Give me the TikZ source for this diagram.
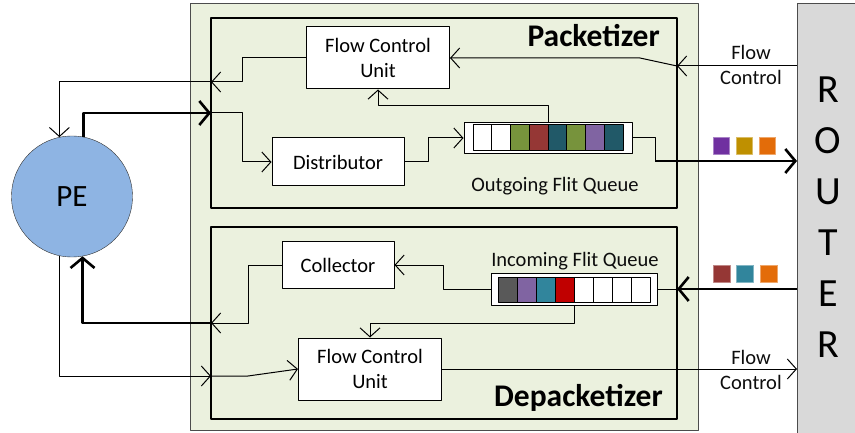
\documentclass[tikz,border=0pt]{standalone}
\usepackage{fontspec}
\setmainfont{Carlito}
\usetikzlibrary{arrows.meta}
\definecolor{bgGreen}{HTML}{EBF1DE}
\definecolor{peBlue}{HTML}{8EB4E3}
\definecolor{rtGray}{HTML}{D9D9D9}
\definecolor{qGreen}{HTML}{77933C}
\definecolor{qRed}{HTML}{953735}
\definecolor{qTeal}{HTML}{215968}
\definecolor{qPurple}{HTML}{8064A2}
\definecolor{qDark}{HTML}{595959}
\definecolor{qCyan}{HTML}{31859C}
\definecolor{qCrimson}{HTML}{C00000}
\definecolor{sqPurple}{HTML}{7030A0}
\definecolor{sqGold}{HTML}{BF9000}
\definecolor{sqOrange}{HTML}{E36C09}
\tikzset{
  blk/.style={draw, fill=white, line width=1pt, align=center, inner sep=0pt},
  sig/.style={line width=1pt, -{Straight Barb[length=9pt,width=20pt]}},
  bus/.style={line width=2.6pt, -{Straight Barb[length=10pt,width=24pt]}},
  ttl/.style={font=\fontsize{31.5}{36}\selectfont\bfseries, anchor=east, inner sep=0pt},
  lbl/.style={inner sep=0pt, text=black!95},
}
\begin{document}
\begin{tikzpicture}[x=1pt,y=-1pt, font=\fontsize{20.5}{24.5}\selectfont, line join=round]
	\useasboundingbox (0,0) rectangle (855,433);
	\draw[fill=bgGreen, draw=black!70] (190,3) rectangle (698,430);
	\draw[fill=rtGray, draw=black!70] (797,3) rectangle (870,445);
	\draw[line width=2.2pt] (211,18) rectangle (677,208) (211,227) rectangle (677,419);
	\node[ttl] (pkTitle) at (660,36) {Packetizer};
	\node[ttl] (dpTitle) at (663,398) {Depacketizer};
	\node[circle, draw=black!80, fill=peBlue, minimum size=121pt, font=\fontsize{31}{36}\selectfont] (PE) at (72,196.5) {PE};
	\foreach \l [count=\i from 0] in {R,O,U,T,E,R}
		\node[font=\fontsize{40}{44}\selectfont] (rt\i) at (828,{90+51*\i}) {\l};
	% packetizer
	\node[blk, minimum width=143pt, minimum height=62pt] (fcuP) at (378,58) {Flow Control\\Unit};
	\node[blk, minimum width=132pt, minimum height=48pt] (dist) at (338,162) {Distributor};
	\node[blk, minimum width=168pt, minimum height=31pt] (qOut) at (548,138) {};
	\foreach \c [count=\i from 0] in {white,white,qGreen,qRed,qTeal,qGreen,qPurple,qTeal}
		\draw[fill=\c, line width=1pt] ({473+18.75*\i},125) rectangle ++(18.75,26);
	\node[lbl] (qOutLbl) at (555,186) {Outgoing Flit Queue};
	\coordinate (pkL) at (211,82); \coordinate (pkB) at (211,113);
	\coordinate (pkR) at (677,66); \coordinate (rtFcP) at (797,66); \coordinate (rtOut) at (797,161);
	\draw[sig] (fcuP.west) -| (242,82) -- (pkL);
	\draw[sig] (pkL) -| (PE.102);
	\draw[bus] (PE.79) |- (pkB);
	\draw[sig] (pkB) -| (242,162) -- (dist.west);
	\draw[sig] (dist.east) -| (428,138) -- (qOut.west);
	\draw[sig] (qOut.north) |- (378,106) -- (fcuP.south);
	\draw[line width=1pt] (qOut.east) -| (655,161);
	\draw[bus] (655,161) -- (rtOut);
	\draw[sig] (rtFcP) -- (pkR);
	\draw[sig] (pkR) -- (640,58) -- (fcuP.east);
	\node[lbl] (fcLblP1) at (751,52) {Flow};
	\node[lbl] (fcLblP2) at (751,77) {Control};
	\foreach \c [count=\i from 0] in {sqPurple,sqGold,sqOrange}
		\draw[fill=\c, draw=\c!60!white, line width=0.8pt] ({713+23.3*\i},137) rectangle ++(16,17);
	% depacketizer
	\node[blk, minimum width=112pt, minimum height=47pt] (coll) at (338,265) {Collector};
	\node[blk, minimum width=143pt, minimum height=62pt] (fcuD) at (370,369) {Flow Control\\Unit};
	\node[blk, minimum width=166pt, minimum height=32pt] (qIn) at (574,289) {};
	\foreach \c [count=\i from 0] in {qDark,qPurple,qCyan,qCrimson,white,white,white,white}
		\draw[fill=\c, line width=1pt] ({498+19*\i},277) rectangle ++(19,25);
	\node[lbl] (qInLbl) at (575,261) {Incoming Flit Queue};
	\coordinate (dpL) at (211,323); \coordinate (dpL2) at (211,376);
	\coordinate (dpR) at (677,289); \coordinate (rtIn) at (797,289); \coordinate (rtFcD) at (797,369);
	\draw[bus] (rtIn) -- (dpR);
	\draw[line width=1pt] (dpR) -- (qIn.east);
	\draw[sig] (qIn.west) -| (443,265) -- (coll.east);
	\draw[sig] (qIn.south) |- (370,323) -- (fcuD.north);
	\draw[sig] (coll.west) -| (248,323) -- (dpL);
	\draw[bus] (dpL) -| (PE.280);
	\draw[sig] (PE.258) |- (dpL2);
	\draw[sig] (dpL2) -- (248,376) -- (fcuD.west);
	\draw[sig] (fcuD.east) -- (rtFcD);
	\node[lbl] (fcLblD1) at (751,357) {Flow};
	\node[lbl] (fcLblD2) at (751,382) {Control};
	\foreach \c [count=\i from 0] in {qRed,qCyan,sqOrange}
		\draw[fill=\c, draw=\c!60!white, line width=0.8pt] ({713+23.8*\i},265) rectangle ++(17,17);
\end{tikzpicture}
\end{document}
